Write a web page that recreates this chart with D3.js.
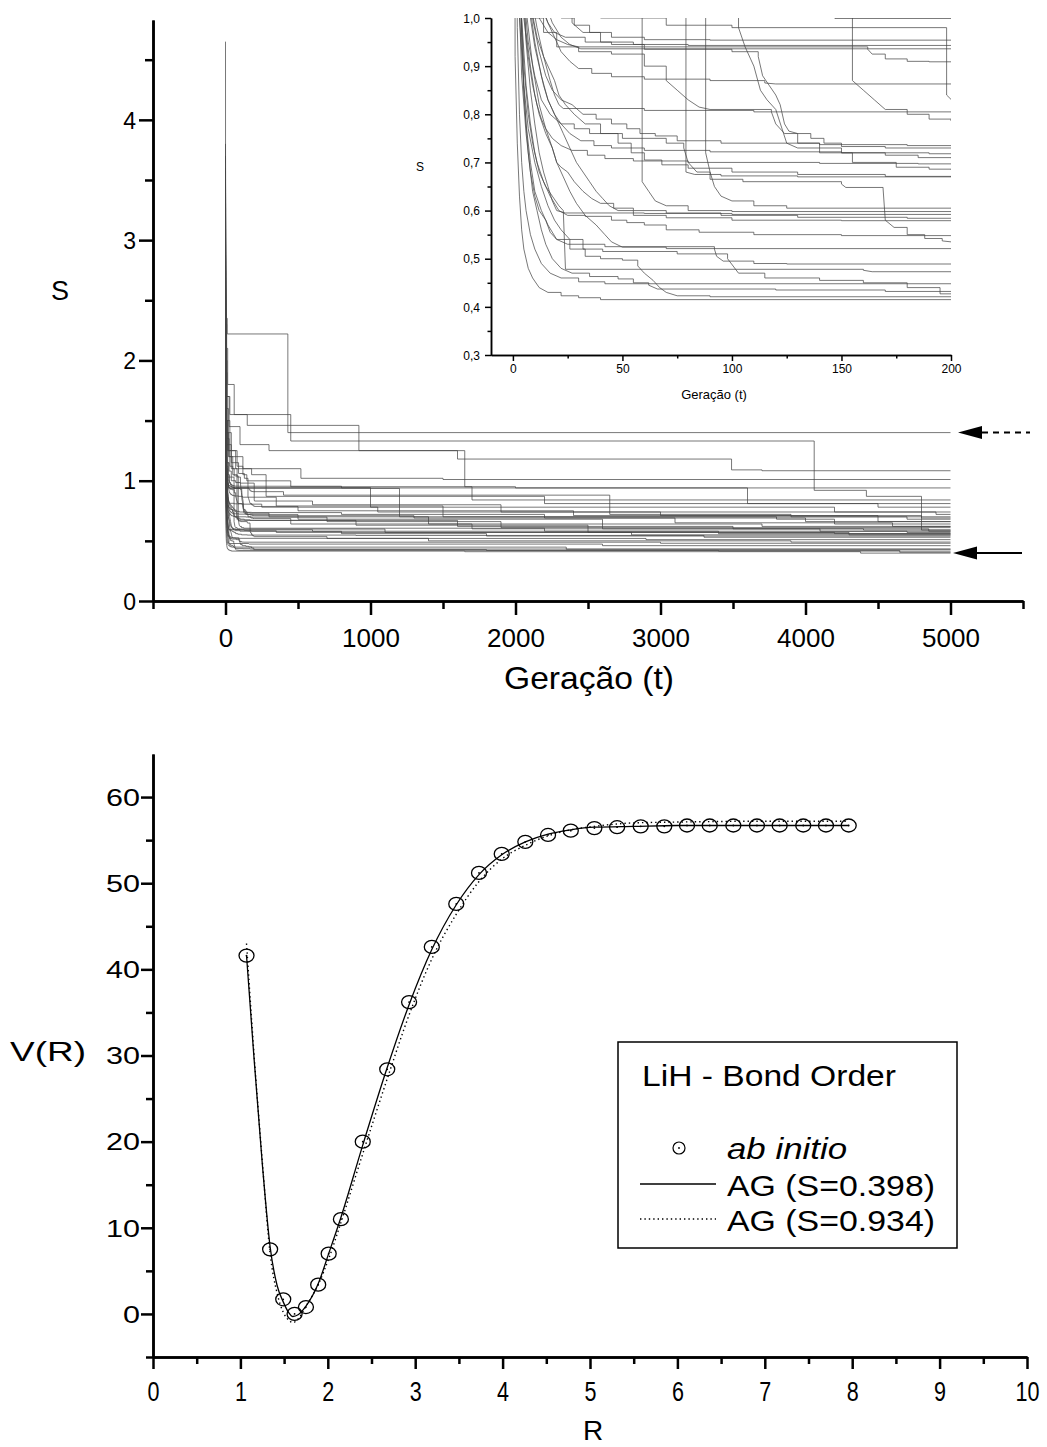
<!DOCTYPE html>
<html>
<head>
<meta charset="utf-8">
<script src="https://cdn.jsdelivr.net/npm/d3@7"></script>
<style>
  body { margin: 0; background: #fff; }
  svg { display: block; }
  text { font-family: "Liberation Sans", Arial, sans-serif; fill: #000; }
</style>
</head>
<body>
<div id="chart"></div>
<script>
// ---- top panel: best S per generation, one series per GA run ([t, S]) ----
const gaRuns = [
  [[0,4.65],[1,0.92],[2,0.74],[3,0.63],[4,0.56],[5,0.52],[7,0.48],[9,0.46],[12,0.44],[16,0.43],[22,0.423],[30,0.419],[40,0.415],[1650,0.41],[4380,0.398],[5000,0.398]],
  [[0,3.2],[2,0.98],[3,0.8],[4,0.7],[5,0.64],[6,0.6],[8,0.55],[10,0.52],[13,0.49],[17,0.47],[22,0.46],[30,0.452],[42,0.448],[2350,0.43],[5000,0.43]],
  [[0,2.9],[4,0.97],[5,0.86],[6,0.78],[8,0.7],[10,0.64],[13,0.6],[16,0.57],[20,0.54],[26,0.52],[33,0.505],[40,0.5],[50,0.497],[57,0.485],[60,0.47],[64,0.455],[67,0.44],[70,0.43],[75,0.423],[90,0.421],[3400,0.415],[5000,0.415]],
  [[0,3.5],[1,1.6],[3,1.02],[4,0.88],[6,0.76],[8,0.68],[10,0.63],[12,0.6],[15,0.58],[17,0.555],[20,0.54],[25,0.53],[32,0.52],[41,0.515],[75,0.51],[98,0.5],[103,0.47],[115,0.46],[140,0.455],[160,0.45],[180,0.44],[195,0.427],[1800,0.42],[4650,0.405],[5000,0.405]],
  [[0,2.6],[3,1.1],[4,0.96],[5,0.84],[7,0.72],[9,0.64],[11,0.6],[13,0.56],[15,0.53],[18,0.5],[22,0.48],[27,0.47],[35,0.463],[48,0.458],[55,0.45],[62,0.445],[66,0.437],[120,0.435],[170,0.432],[5000,0.432]],
  [[0,2.4],[2,1.3],[4,1.0],[6,0.86],[8,0.78],[10,0.72],[12,0.68],[15,0.65],[18,0.63],[21,0.61],[23,0.6],[24,0.478],[160,0.476],[164,0.473],[2600,0.46],[5000,0.46]],
  [[0,3.3],[1,1.45],[3,1.0],[5,0.86],[7,0.77],[10,0.7],[13,0.65],[16,0.61],[19,0.58],[22,0.56],[26,0.54],[32,0.53],[42,0.525],[92,0.52],[93,0.505],[96,0.495],[110,0.49],[125,0.489],[3000,0.48],[5000,0.48]],
  [[0,2.2],[2,1.4],[4,1.1],[6,0.97],[8,0.9],[10,0.84],[12,0.8],[15,0.76],[18,0.73],[20,0.7],[23,0.67],[26,0.64],[29,0.615],[33,0.59],[38,0.57],[42,0.55],[45,0.535],[50,0.524],[70,0.521],[1400,0.5],[3900,0.49],[5000,0.49]],
  [[0,2.1],[3,1.25],[5,1.05],[7,0.95],[10,0.88],[13,0.83],[17,0.8],[22,0.78],[28,0.77],[35,0.76],[50,0.75],[70,0.74],[78,0.73],[80,0.7],[84,0.68],[90,0.665],[105,0.66],[150,0.655],[152,0.648],[169,0.645],[170,0.58],[174,0.565],[180,0.55],[188,0.542],[196,0.537],[200,0.535],[700,0.52],[2900,0.51],[5000,0.51]],
  [[0,2.8],[1,2.0],[3,1.08],[5,0.9],[7,0.8],[9,0.74],[11,0.7],[14,0.66],[17,0.63],[21,0.6],[25,0.59],[33,0.588],[45,0.58],[52,0.575],[60,0.57],[70,0.56],[85,0.555],[110,0.55],[150,0.548],[900,0.545],[3300,0.53],[5000,0.53]],
  [[0,2.5],[3,1.6],[8,1.3],[15,1.15],[25,1.08],[40,1.03],[59,0.66],[62,0.64],[65,0.62],[70,0.61],[80,0.6],[100,0.598],[1100,0.57],[4300,0.55],[5000,0.55]],
  [[0,3.7],[2,2.2],[6,1.5],[14,1.25],[30,1.12],[50,1.05],[79,0.68],[83,0.675],[95,0.672],[130,0.67],[1600,0.62],[3500,0.6],[4100,0.58],[5000,0.58]],
  [[0,3.0],[3,1.8],[8,1.4],[20,1.2],[40,1.1],[60,1.04],[88,0.72],[90,0.68],[92,0.65],[95,0.63],[100,0.62],[110,0.61],[125,0.605],[2200,0.58],[4700,0.57],[5000,0.57]],
  [[0,2.3],[3,1.7],[10,1.35],[25,1.2],[50,1.1],[80,1.03],[103,0.98],[106,0.94],[110,0.9],[113,0.85],[116,0.83],[120,0.81],[125,0.74],[130,0.73],[150,0.72],[170,0.715],[185,0.71],[200,0.709],[1300,0.69],[3100,0.65],[4600,0.62],[5000,0.62]],
  [[0,2.0],[4,1.5],[15,1.3],[40,1.15],[90,1.06],[130,1.02],[155,0.87],[160,0.85],[165,0.83],[170,0.81],[180,0.8],[190,0.79],[200,0.786],[500,0.75],[2400,0.71],[4500,0.66],[5000,0.66]],
  [[0,2.7],[3,1.4],[8,1.1],[15,1.03],[40,1.0],[70,0.985],[100,0.98],[198,0.84],[200,0.831],[600,0.8],[1900,0.74],[4900,0.72],[5000,0.72]],
  [[0,3.1],[3,1.9],[10,1.5],[30,1.25],[80,1.12],[120,1.05],[147,0.999],[450,0.95],[1700,0.84],[5000,0.84]],
  [[0,2.5],[2,1.7],[5,1.3],[10,1.12],[16,1.05],[22,1.0],[28,0.985],[35,0.97],[45,0.96],[60,0.955],[90,0.954],[800,0.94],[3600,0.81],[5000,0.81]],
  [[0,3.6],[2,2.0],[6,1.4],[12,1.15],[20,1.05],[27,0.99],[32,0.97],[40,0.95],[55,0.945],[80,0.943],[1000,0.78],[4200,0.74],[5000,0.74]],
  [[0,2.9],[3,1.5],[8,1.15],[14,1.04],[18,0.99],[22,0.96],[26,0.945],[31,0.936],[1200,0.7],[3800,0.68],[4200,0.64],[5000,0.64]],
  [[0,2.6],[3,1.45],[8,1.12],[13,1.03],[16,0.99],[19,0.97],[24,0.96],[33,0.95],[45,0.945],[60,0.94],[162,0.935],[164,0.925],[170,0.915],[180,0.91],[190,0.909],[400,0.88],[2650,0.72],[3900,0.7],[5000,0.7]],
  [[0,3.4],[2,1.9],[5,1.3],[9,1.1],[13,1.02],[16,0.99],[19,0.96],[22,0.93],[26,0.91],[30,0.895],[36,0.885],[45,0.878],[60,0.873],[90,0.87],[115,0.865],[120,0.863],[350,0.79],[1500,0.7],[4700,0.68],[5000,0.68]],
  [[0,2.3],[3,1.3],[7,1.08],[11,0.98],[14,0.92],[17,0.87],[19,0.84],[21,0.82],[23,0.812],[60,0.808],[110,0.805],[250,0.78],[1050,0.74],[3000,0.71],[4800,0.69],[5000,0.69]],
  [[0,3.0],[2,1.6],[5,1.15],[9,1.0],[12,0.93],[15,0.88],[18,0.85],[22,0.83],[27,0.82],[32,0.8],[38,0.79],[45,0.78],[52,0.77],[58,0.76],[65,0.755],[75,0.745],[95,0.74],[140,0.737],[180,0.735],[800,0.72],[2200,0.69],[4000,0.66],[5000,0.66]],
  [[0,2.7],[3,1.4],[7,1.1],[12,1.0],[16,0.97],[20,0.955],[25,0.945],[30,0.94],[60,0.935],[100,0.93],[112,0.92],[114,0.88],[117,0.86],[120,0.84],[122,0.82],[124,0.78],[126,0.765],[130,0.76],[136,0.75],[142,0.74],[150,0.733],[170,0.73],[300,0.7],[1400,0.64],[3700,0.62],[5000,0.62]],
  [[0,2.1],[2,1.5],[5,1.15],[8,1.0],[10,0.94],[12,0.9],[14,0.86],[16,0.83],[19,0.8],[22,0.78],[26,0.76],[31,0.745],[37,0.735],[45,0.73],[60,0.725],[90,0.722],[150,0.72],[190,0.718],[500,0.68],[2600,0.6],[4400,0.59],[5000,0.59]],
  [[0,3.8],[1,1.8],[3,1.2],[5,1.0],[7,0.92],[9,0.86],[11,0.82],[13,0.79],[15,0.77],[18,0.75],[22,0.735],[27,0.725],[34,0.715],[42,0.708],[55,0.703],[80,0.7],[140,0.698],[185,0.697],[700,0.66],[1900,0.61],[5000,0.61]],
  [[0,2.5],[4,1.2],[8,1.0],[14,0.97],[20,0.94],[30,0.93],[45,0.925],[60,0.9],[70,0.87],[75,0.85],[80,0.83],[85,0.815],[90,0.81],[118,0.805],[120,0.78],[124,0.76],[130,0.74],[140,0.72],[155,0.7],[175,0.69],[190,0.686],[200,0.685],[450,0.64],[1700,0.6],[4850,0.58],[5000,0.58]],
  [[0,3.3],[2,1.7],[5,1.2],[8,1.03],[11,0.96],[14,0.92],[17,0.89],[19,0.87],[21,0.84],[24,0.82],[28,0.8],[33,0.78],[40,0.76],[48,0.74],[54,0.72],[60,0.705],[68,0.695],[80,0.688],[100,0.68],[130,0.675],[170,0.671],[200,0.67],[900,0.63],[2500,0.57],[4200,0.56],[5000,0.56]],
  [[0,2.9],[2,1.6],[4,1.12],[6,0.95],[8,0.85],[10,0.78],[12,0.72],[14,0.68],[16,0.65],[18,0.62],[20,0.6],[24,0.595],[60,0.594],[100,0.592],[600,0.58],[3400,0.56],[5000,0.56]],
  [[0,2.4],[3,1.3],[6,1.02],[9,0.9],[12,0.82],[15,0.77],[18,0.73],[20,0.7],[22,0.69],[25,0.68],[28,0.66],[32,0.64],[36,0.625],[40,0.615],[46,0.605],[55,0.6],[70,0.595],[95,0.59],[130,0.586],[180,0.584],[350,0.57],[2800,0.55],[5000,0.55]],
  [[0,2.2],[2,1.6],[4,1.25],[7,1.05],[10,0.95],[13,0.88],[16,0.83],[18,0.81],[20,0.79],[23,0.76],[26,0.73],[29,0.7],[32,0.68],[35,0.66],[38,0.64],[41,0.625],[44,0.61],[48,0.6],[55,0.59],[70,0.585],[100,0.58],[150,0.579],[800,0.56],[1800,0.54],[5000,0.54]],
  [[0,3.4],[2,2.6],[5,2.35],[12,2.22],[430,1.4],[5000,1.4]],
  [[0,2.8],[3,2.0],[10,1.7],[30,1.55],[150,1.46],[920,1.25],[1600,1.18],[3490,1.09],[3700,1.083],[5000,1.083]],
  [[0,3.0],[4,2.1],[15,1.8],[60,1.55],[450,1.33],[4060,0.92],[4420,0.87],[4800,0.59],[5000,0.59]],
  [[0,2.6],[3,1.8],[10,1.4],[40,1.2],[120,1.1],[520,1.02],[1500,1.01],[5000,1.01]],
  [[0,3.5],[2,2.3],[8,1.7],[25,1.45],[100,1.3],[300,1.25],[1650,0.95],[2000,0.94],[5000,0.94]],
  [[0,2.4],[5,1.6],[20,1.25],[70,1.1],[180,1.05],[280,0.87],[2200,0.81],[4500,0.78],[5000,0.78]]
]
const topXTicks = [0, 1000, 2000, 3000, 4000, 5000]
const topYTicks = [0, 1, 2, 3, 4]
const insetXTicks = [0, 50, 100, 150, 200]
const insetYTicks = [0.3, 0.4, 0.5, 0.6, 0.7, 0.8, 0.9, 1.0]
const markedS = [1.40, 0.398]   // arrows on the right

// ---- bottom panel: LiH potential ----
const abInitioR = [1.07,1.34,1.49,1.62,1.75,1.89,2.01,2.15,2.40,2.68,2.93,3.19,3.47,3.73,3.99,4.26,4.52,4.78,5.05,5.31,5.58,5.85,6.11,6.37,6.64,6.91,7.17,7.44,7.70,7.96]
const abInitioV = [41.6,7.5,1.7,0.0,0.8,3.4,7.0,11.0,20.0,28.4,36.2,42.6,47.6,51.2,53.4,54.8,55.6,56.1,56.4,56.5,56.6,56.6,56.7,56.7,56.7,56.7,56.7,56.7,56.7,56.7]
const fitR = [1.07,1.15,1.25,1.34,1.42,1.49,1.55,1.6,1.66,1.75,1.89,2.01,2.15,2.4,2.68,2.93,3.19,3.47,3.73,3.99,4.26,4.52,4.78,5.05,5.5,6.0,7.0,7.96]
const fitV398 = [41.6,30.5,17.5,7.8,3.3,1.4,0.2,-0.3,-0.1,0.9,3.5,7.0,11.2,19.6,28.6,35.9,42.3,47.5,51.0,53.3,54.8,55.7,56.2,56.5,56.6,56.7,56.7,56.7]
const fitV934 = [43.0,31.0,17.8,7.0,2.4,0.2,-0.7,-1.0,-0.6,0.9,3.4,6.4,10.6,18.6,27.3,34.7,41.2,46.4,50.2,52.8,54.4,55.5,56.2,56.6,57.0,57.1,57.2,57.2]
const botXTicks = [0,1,2,3,4,5,6,7,8,9,10]
const botYTicks = [0,10,20,30,40,50,60]
const legendLabels = ["ab initio", "AG (S=0.398)", "AG (S=0.934)"]

const svg = d3.select("#chart").append("svg")
  .attr("width", 1047)
  .attr("height", 1447)
svg.append("rect").attr("width", 1047).attr("height", 1447).attr("fill", "#fff")

const defs = svg.append("defs")

// helper: stretch text to a measured width
function stretch(sel, w) {
  sel.attr("textLength", w).attr("lengthAdjust", "spacingAndGlyphs")
}

function styleAxis(g, sw) {
  g.select(".domain").attr("stroke", "#000").attr("stroke-width", sw)
  g.selectAll(".tick line").attr("stroke", "#000").attr("stroke-width", sw)
}

// a run is drawn segment by segment: consecutive generations are joined
// directly, a longer wait is drawn as a plateau followed by a drop
function runPath(x, y, gap) {
  return d => {
    const p = d3.path()
    p.moveTo(x(d[0][0]), y(d[0][1]))
    for (let i = 1; i < d.length; i++) {
      if (d[i][0] - d[i - 1][0] > gap) p.lineTo(x(d[i][0]), y(d[i - 1][1]))
      p.lineTo(x(d[i][0]), y(d[i][1]))
    }
    return p.toString()
  }
}

// ================= TOP PANEL =================
const xTop = d3.scaleLinear().domain([-500, 5500]).range([153, 1023])
const yTop = d3.scaleLinear().domain([0, 4.83]).range([601, 20])

defs.append("clipPath").attr("id", "clipTop").append("rect")
  .attr("x", 153).attr("y", 20).attr("width", 870).attr("height", 581)

svg.append("g").attr("clip-path", "url(#clipTop)")
  .selectAll("path").data(gaRuns).join("path")
  .attr("d", runPath(xTop, yTop, 5))
  .attr("fill", "none")
  .attr("stroke", "#444")
  .attr("stroke-opacity", 0.72)
  .attr("stroke-width", 1)

// minor ticks
const topXMinor = svg.append("g").attr("transform", `translate(0,${yTop(0)})`)
  .call(d3.axisBottom(xTop).tickValues(d3.range(-500, 5501, 1000)).tickSize(8).tickSizeOuter(0).tickFormat(""))
styleAxis(topXMinor, 2.5)
const topYMinor = svg.append("g").attr("transform", `translate(${xTop(-500)},0)`)
  .call(d3.axisLeft(yTop).tickValues([0.5, 1.5, 2.5, 3.5, 4.5]).tickSize(8).tickSizeOuter(0).tickFormat(""))
styleAxis(topYMinor, 2.5)

const topXAxis = svg.append("g").attr("transform", `translate(0,${yTop(0)})`)
  .call(d3.axisBottom(xTop).tickValues(topXTicks).tickSize(14).tickSizeOuter(0).tickFormat(d3.format("d")))
styleAxis(topXAxis, 2.5)
topXAxis.selectAll("text").attr("y", 46).attr("dy", 0)
  .attr("font-size", 26).attr("fill", "#000")

const topYAxis = svg.append("g").attr("transform", `translate(${xTop(-500)},0)`)
  .call(d3.axisLeft(yTop).tickValues(topYTicks).tickSize(14).tickSizeOuter(0).tickFormat(d3.format("d")))
styleAxis(topYAxis, 2.5)
topYAxis.selectAll("text").attr("x", -17).attr("dy", "0.36em")
  .attr("font-size", 23).attr("fill", "#000")

svg.append("text").attr("x", 589).attr("y", 689).attr("text-anchor", "middle")
  .attr("font-size", 32).text("Geração (t)").call(stretch, 170)
svg.append("text").attr("x", 60).attr("y", 300).attr("text-anchor", "middle")
  .attr("font-size", 27).text("S")

// arrows pointing at two final S values
const arrowG = svg.append("g")
markedS.forEach((s, i) => {
  const y = yTop(s)
  const tip = i === 0 ? 958 : 953
  const base = tip + 24
  arrowG.append("path")
    .attr("d", `M${tip},${y} L${base},${y - 6.5} L${base},${y + 6.5} Z`)
    .attr("fill", "#000")
  arrowG.append("line")
    .attr("x1", base).attr("x2", i === 0 ? 1030 : 1022)
    .attr("y1", y).attr("y2", y)
    .attr("stroke", "#000").attr("stroke-width", 2)
    .attr("stroke-dasharray", i === 0 ? "6,5" : null)
})

// ---------- inset ----------
const xIn = d3.scaleLinear().domain([-10, 200]).range([491, 951])
const yIn = d3.scaleLinear().domain([0.3, 1.0]).range([355, 18])

defs.append("clipPath").attr("id", "clipIn").append("rect")
  .attr("x", 491).attr("y", 18).attr("width", 460).attr("height", 337)

svg.append("g").attr("clip-path", "url(#clipIn)")
  .selectAll("path").data(gaRuns).join("path")
  .attr("d", runPath(xIn, yIn, 5))
  .attr("fill", "none")
  .attr("stroke", "#444")
  .attr("stroke-opacity", 0.72)
  .attr("stroke-width", 1)

const comma = d => d3.format(".1f")(d).replace(".", ",")

const inXMinor = svg.append("g").attr("transform", `translate(0,${yIn(0.3)})`)
  .call(d3.axisBottom(xIn).tickValues([25, 75, 125, 175]).tickSize(3.5).tickSizeOuter(0).tickFormat(""))
styleAxis(inXMinor, 1.5)
const inYMinor = svg.append("g").attr("transform", `translate(${xIn(-10)},0)`)
  .call(d3.axisLeft(yIn).tickValues([0.35, 0.45, 0.55, 0.65, 0.75, 0.85, 0.95]).tickSize(3.5).tickSizeOuter(0).tickFormat(""))
styleAxis(inYMinor, 1.5)

const inXAxis = svg.append("g").attr("transform", `translate(0,${yIn(0.3)})`)
  .call(d3.axisBottom(xIn).tickValues(insetXTicks).tickSize(6).tickSizeOuter(0))
styleAxis(inXAxis, 1.5)
inXAxis.selectAll("text").attr("y", 18).attr("dy", 0).attr("font-size", 12).attr("fill", "#000")

const inYAxis = svg.append("g").attr("transform", `translate(${xIn(-10)},0)`)
  .call(d3.axisLeft(yIn).tickValues(insetYTicks).tickSize(6).tickSizeOuter(0).tickFormat(comma))
styleAxis(inYAxis, 1.5)
inYAxis.selectAll("text").attr("x", -11).attr("dy", "0.35em").attr("font-size", 12).attr("fill", "#000")

svg.append("text").attr("x", 714).attr("y", 399).attr("text-anchor", "middle")
  .attr("font-size", 13).text("Geração (t)")
svg.append("text").attr("x", 420).attr("y", 171).attr("text-anchor", "middle")
  .attr("font-size", 12).text("S")

// ================= BOTTOM PANEL =================
const xBot = d3.scaleLinear().domain([0, 10]).range([153, 1027])
const yBot = d3.scaleLinear().domain([-5, 65]).range([1357, 754])

const lineBot = d3.line()
  .x(d => xBot(d[0])).y(d => yBot(d[1]))
  .curve(d3.curveMonotoneX)

svg.append("path")
  .attr("d", lineBot(fitR.map((r, i) => [r, fitV934[i]])))
  .attr("fill", "none").attr("stroke", "#000").attr("stroke-width", 1.4)
  .attr("stroke-dasharray", "1.4,3")
svg.append("path")
  .attr("d", lineBot(fitR.map((r, i) => [r, fitV398[i]])))
  .attr("fill", "none").attr("stroke", "#000").attr("stroke-width", 1.3)

const pts = svg.append("g").selectAll("g")
  .data(abInitioR.map((r, i) => [r, abInitioV[i]]))
  .join("g")
  .attr("transform", d => `translate(${xBot(d[0])},${yBot(d[1])})`)
pts.append("ellipse").attr("rx", 7.5).attr("ry", 6.5)
  .attr("fill", "none").attr("stroke", "#000").attr("stroke-width", 1.3)
pts.append("circle").attr("r", 0.9).attr("fill", "#000")

const botXMinor = svg.append("g").attr("transform", `translate(0,${yBot(-5)})`)
  .call(d3.axisBottom(xBot).tickValues(d3.range(0.5, 10, 1)).tickSize(7).tickSizeOuter(0).tickFormat(""))
styleAxis(botXMinor, 2.5)
const botYMinor = svg.append("g").attr("transform", `translate(${xBot(0)},0)`)
  .call(d3.axisLeft(yBot).tickValues([-5, 5, 15, 25, 35, 45, 55]).tickSize(7).tickSizeOuter(0).tickFormat(""))
styleAxis(botYMinor, 2.5)

const botXAxis = svg.append("g").attr("transform", `translate(0,${yBot(-5)})`)
  .call(d3.axisBottom(xBot).tickValues(botXTicks).tickSize(12).tickSizeOuter(0))
styleAxis(botXAxis, 2.5)
botXAxis.selectAll("text").attr("y", 44).attr("dy", 0)
  .attr("font-size", 27).attr("fill", "#000")
  .each(function (d) { stretch(d3.select(this), String(d).length * 12) })

const botYAxis = svg.append("g").attr("transform", `translate(${xBot(0)},0)`)
  .call(d3.axisLeft(yBot).tickValues(botYTicks).tickSize(12).tickSizeOuter(0))
styleAxis(botYAxis, 2.5)
botYAxis.selectAll("text").attr("x", -13).attr("dy", "0.36em")
  .attr("font-size", 23).attr("fill", "#000")
  .each(function (d) { stretch(d3.select(this), String(d).length * 17) })

svg.append("text").attr("x", 593).attr("y", 1440).attr("text-anchor", "middle")
  .attr("font-size", 28).text("R")
svg.append("text").attr("x", 48).attr("y", 1061).attr("text-anchor", "middle")
  .attr("font-size", 28).text("V(R)").call(stretch, 76)

// legend
const leg = svg.append("g")
leg.append("rect").attr("x", 618).attr("y", 1042).attr("width", 339).attr("height", 206)
  .attr("fill", "#fff").attr("stroke", "#000").attr("stroke-width", 1.5)
leg.append("text").attr("x", 642).attr("y", 1086).attr("font-size", 30)
  .text("LiH - Bond Order").call(stretch, 254)
leg.append("circle").attr("cx", 679).attr("cy", 1148).attr("r", 6)
  .attr("fill", "none").attr("stroke", "#000").attr("stroke-width", 1.2)
leg.append("circle").attr("cx", 679).attr("cy", 1148).attr("r", 0.9).attr("fill", "#000")
leg.append("line").attr("x1", 640).attr("x2", 716).attr("y1", 1184).attr("y2", 1184)
  .attr("stroke", "#000").attr("stroke-width", 1.3)
leg.append("line").attr("x1", 640).attr("x2", 716).attr("y1", 1219).attr("y2", 1219)
  .attr("stroke", "#000").attr("stroke-width", 1.3).attr("stroke-dasharray", "1.4,3")
leg.append("text").attr("x", 727).attr("y", 1159).attr("font-size", 30)
  .attr("font-style", "italic").text(legendLabels[0]).call(stretch, 120)
leg.append("text").attr("x", 727).attr("y", 1196).attr("font-size", 30)
  .text(legendLabels[1]).call(stretch, 208)
leg.append("text").attr("x", 727).attr("y", 1231).attr("font-size", 30)
  .text(legendLabels[2]).call(stretch, 208)
</script>
</body>
</html>
